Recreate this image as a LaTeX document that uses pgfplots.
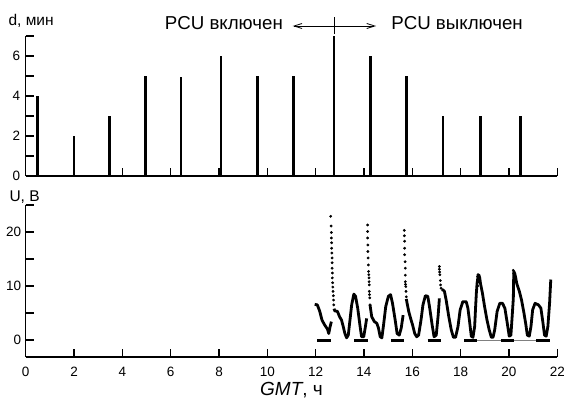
\documentclass[border=0pt]{standalone}
\usepackage{fontspec}
\setmainfont{Liberation Sans}
\usepackage{pgfplots}
\pgfplotsset{compat=1.18}
\usetikzlibrary{arrows.meta}

\pgfplotsset{
  panel/.style={
    scale only axis, width=531.6pt,
    xmin=0, xmax=22,
    axis x line*=bottom, axis y line*=left,
    axis line style={line width=1.5pt, black},
    tick align=inside,
    major tick length=8pt, minor tick length=8pt,
    every tick/.style={line width=1.2pt, black},
    xtick={0,2,...,22},
    ticklabel style={font=\fontsize{13.5}{14}\selectfont},
    /pgf/number format/assume math mode=true,
    clip=false,
  },
}

\begin{document}
\begin{tikzpicture}[x=1pt,y=1pt]
\path[use as bounding box] (0,0) rectangle (564,408);

% --- top panel: duration d, min ---
\begin{axis}[panel,
  at={(25.7pt,232pt)}, anchor=south west,
  height=140pt, ymin=0, ymax=7,
  ytick={0,2,4,6}, minor ytick={1,3,5,7},
  xticklabels={},
  yticklabel style={xshift=-2pt},
]
\addplot[ycomb, black, line width=2.6pt, no markers] coordinates {
  (0.50,4) (2.00,2) (3.46,3) (4.96,5) (6.43,4.95) (8.08,6) (9.59,5)
  (11.09,5) (12.76,7) (14.26,6) (15.76,5) (17.27,3) (18.81,3) (20.48,3)
};
\draw[{Straight Barb[length=8pt,width=5pt]}-{Straight Barb[length=8pt,width=5pt]}, line width=0.8pt]
  (axis cs:11.05,7.5) -- (axis cs:14.5,7.5);
\draw[line width=0.8pt] (axis cs:12.76,7.1) -- (axis cs:12.76,7.95);
\node[font=\fontsize{18.7}{21}\selectfont] at (axis cs:8.2,7.65) {PCU включен};
\node[font=\fontsize{18.7}{21}\selectfont] at (axis cs:17.85,7.65) {PCU выключен};
\end{axis}

% --- bottom panel: voltage U, V ---
\begin{axis}[panel,
  at={(25.7pt,51pt)}, anchor=south west,
  height=152pt, ymin=-3.15, ymax=25,
  ytick={0,10,20}, minor ytick={5,15,25},
  yticklabel style={xshift=-1pt},
  xticklabel style={yshift=-7pt},
  xlabel={\textit{GMT}, ч},
  xlabel style={font=\fontsize{19}{22}\selectfont, at={(axis description cs:0.5,-0.255)}, anchor=base},
]
% eclipse markers
\addplot[gray, line width=0.6pt] coordinates {(18.14,-0.1) (21.68,-0.1)};
\addplot[black, line width=2.4pt] coordinates {(12.07,-0.1) (12.62,-0.1)};
\addplot[black, line width=2.4pt] coordinates {(13.60,-0.1) (14.15,-0.1)};
\addplot[black, line width=2.4pt] coordinates {(15.12,-0.1) (15.67,-0.1)};
\addplot[black, line width=2.4pt] coordinates {(16.63,-0.1) (17.17,-0.1)};
\addplot[black, line width=2.4pt] coordinates {(18.14,-0.1) (18.66,-0.1)};
\addplot[black, line width=2.4pt] coordinates {(19.66,-0.1) (20.19,-0.1)};
\addplot[black, line width=2.4pt] coordinates {(21.13,-0.1) (21.68,-0.1)};

% voltage trace, continuous parts
\addplot[black, line width=2.8pt, line join=round] coordinates {
  (11.96,6.6) (12.07,6.5) (12.17,5.3) (12.26,3.7) (12.37,2.8) (12.49,2.0)
  (12.54,1.2) (12.60,2.5) (12.65,3.4)
};
\addplot[black, line width=2.8pt, line join=round] coordinates {
  (12.76,5.8) (12.79,5.4) (12.90,5.3) (12.99,4.3) (13.07,3.7) (13.14,2.5)
  (13.21,1.2) (13.28,0.4) (13.35,0.9) (13.42,3.7) (13.49,6.5) (13.58,8.5)
  (13.65,8.1) (13.74,5.9) (13.83,2.8) (13.90,0.6) (13.99,0.6) (14.07,2.8)
  (14.11,4.0)
};
\addplot[black, line width=2.8pt, line join=round] coordinates {
  (14.25,6.5) (14.32,4.3) (14.43,3.4) (14.53,3.1) (14.60,2.2) (14.67,0.6)
  (14.74,0.4) (14.81,2.8) (14.90,6.2) (15.01,8.1) (15.10,8.4) (15.18,6.8)
  (15.29,3.7) (15.37,1.2) (15.46,0.9) (15.54,2.2) (15.62,4.6)
};
\addplot[black, line width=2.8pt, line join=round] coordinates {
  (15.75,7.6) (15.85,5.3) (15.93,4.0) (16.01,2.8) (16.10,1.2) (16.18,0.6)
  (16.26,0.9) (16.36,3.7) (16.44,6.5) (16.54,8.2) (16.64,8.1) (16.72,5.9)
  (16.82,2.8) (16.90,0.6) (16.99,0.9) (17.07,4.6) (17.12,7.7)
};
\addplot[black, line width=2.8pt, line join=round] coordinates {
  (17.20,9.3) (17.26,9.3) (17.33,9.0) (17.40,7.4) (17.51,4.3) (17.61,1.9)
  (17.70,0.5) (17.79,0.5) (17.89,2.5) (17.98,5.6) (18.09,7.1) (18.23,7.1)
  (18.30,5.9) (18.37,3.4) (18.44,0.7) (18.51,0.5) (18.58,2.5) (18.62,6.2)
  (18.65,8.7) (18.68,10.5) (18.72,11.8) (18.76,12.0) (18.79,11.5) (18.82,10.5)
  (18.90,8.7) (18.99,6.2) (19.09,3.7) (19.18,1.9) (19.27,0.5) (19.34,0.5)
  (19.41,1.9) (19.51,5.3) (19.62,6.8) (19.73,6.8) (19.83,5.9) (19.93,3.1)
  (20.01,0.7) (20.08,0.9) (20.15,5.6) (20.18,7.7) (20.19,10.5) (20.20,12.7)
  (20.24,12.3) (20.28,11.5) (20.32,10.5) (20.43,9.0) (20.52,7.4) (20.62,5.0)
  (20.70,2.8) (20.76,0.9) (20.84,0.7) (20.91,2.5) (20.98,5.6) (21.08,6.8)
  (21.22,6.5) (21.32,5.9) (21.40,3.4) (21.47,0.9) (21.54,0.7) (21.61,2.5)
  (21.68,6.8) (21.73,11.2)
};
% voltage trace, sparse spikes
\addplot[only marks, mark=*, mark size=1.2pt, black] coordinates {
  (12.62,22.9) (12.64,21.1) (12.65,19.9) (12.65,18.9) (12.66,18.0) (12.66,17.0)
  (12.67,16.1) (12.68,15.2) (12.68,14.3) (12.68,13.3) (12.69,12.4) (12.69,11.5)
  (12.70,10.6) (12.71,9.8) (12.72,9.0) (12.73,8.2) (12.74,7.4) (12.75,6.5)
  (14.15,21.3) (14.15,20.1) (14.15,18.9) (14.16,17.6) (14.16,16.4) (14.17,15.2)
  (14.18,13.9) (14.19,12.7) (14.20,12.1) (14.21,11.5) (14.21,10.8) (14.22,10.2)
  (14.22,9.0) (14.23,8.4) (14.24,7.8) (14.25,6.5)
  (15.67,20.3) (15.67,19.3) (15.68,18.3) (15.68,17.0) (15.68,15.8) (15.70,14.5)
  (15.71,13.3) (15.71,12.0) (15.71,10.8) (15.72,10.3) (15.73,9.9) (15.74,9.0)
  (15.75,8.0)
  (17.12,13.6) (17.12,13.1) (17.13,12.6) (17.14,12.1) (17.16,11.0) (17.17,10.2)
  (17.19,9.6)
  (18.70,11.8) (18.72,12.1) (18.74,11.0) (18.70,10.0)
  (20.18,12.9) (20.20,12.3) (20.22,11.6) (20.21,11.0)
};
\end{axis}

\node[anchor=west, font=\fontsize{15.5}{17}\selectfont] at (5,387) {d, мин};
\node[anchor=west, font=\fontsize{15.5}{17}\selectfont] at (6,211) {U, В};
\end{tikzpicture}
\end{document}
